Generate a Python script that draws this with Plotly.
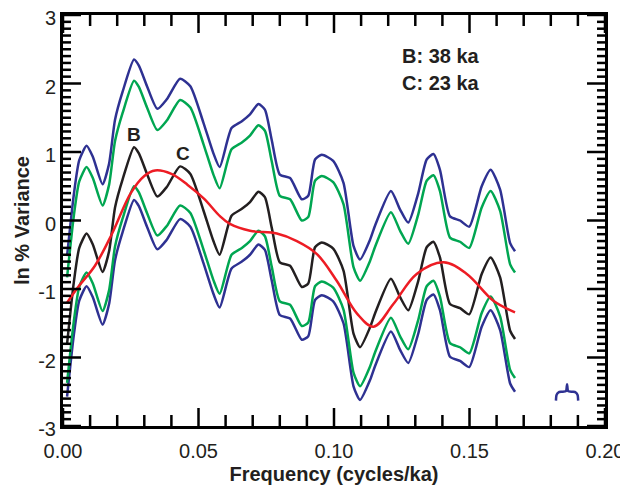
import plotly.graph_objects as go

# ---- data ----
freq = [0.0015, 0.004, 0.006, 0.0087, 0.011, 0.0146, 0.017, 0.0192, 0.022, 0.0262,
        0.028, 0.031, 0.0348, 0.0383, 0.0432, 0.047, 0.0518, 0.0555, 0.0578, 0.0622,
        0.066, 0.069, 0.0721, 0.0745, 0.077, 0.080, 0.0838, 0.0881, 0.0905, 0.093,
        0.0955, 0.0997, 0.1035, 0.1072, 0.1096, 0.1133, 0.1151, 0.121, 0.1244, 0.1274,
        0.1311, 0.1342, 0.1367, 0.1391, 0.1428, 0.1465, 0.1499, 0.1545, 0.1578, 0.1613,
        0.165, 0.1668]

spectrum = [-1.80, -0.90, -0.40, -0.19, -0.35, -0.75, -0.45, 0.19, 0.60, 1.07,
            0.98, 0.68, 0.35, 0.49, 0.79, 0.68, 0.15, -0.30, -0.50, 0.07,
            0.17, 0.27, 0.42, 0.34, -0.10, -0.61, -0.66, -0.97, -0.92, -0.39,
            -0.32, -0.41, -0.73, -1.65, -1.85, -1.56, -1.36, -0.85, -1.12, -1.31,
            -0.88, -0.39, -0.31, -0.54, -1.22, -1.28, -1.37, -0.78, -0.54, -0.83,
            -1.61, -1.73]

upper_blue = [-0.52, 0.38, 0.88, 1.09, 0.93, 0.53, 0.83, 1.47, 1.88, 2.35,
              2.26, 1.96, 1.63, 1.77, 2.07, 1.96, 1.43, 0.98, 0.78, 1.35,
              1.45, 1.55, 1.70, 1.62, 1.18, 0.67, 0.62, 0.31, 0.36, 0.89,
              0.96, 0.87, 0.55, -0.37, -0.57, -0.28, -0.08, 0.43, 0.16, -0.03,
              0.40, 0.89, 0.97, 0.74, 0.06, 0.00, -0.09, 0.50, 0.74, 0.45,
              -0.33, -0.45]

upper_green = [-0.83, 0.07, 0.57, 0.78, 0.62, 0.22, 0.52, 1.16, 1.57, 2.04,
               1.95, 1.65, 1.32, 1.46, 1.76, 1.65, 1.12, 0.67, 0.47, 1.04,
               1.14, 1.24, 1.39, 1.31, 0.87, 0.36, 0.31, 0.00, 0.05, 0.58,
               0.65, 0.56, 0.24, -0.68, -0.88, -0.59, -0.39, 0.12, -0.15, -0.34,
               0.09, 0.58, 0.66, 0.43, -0.25, -0.31, -0.40, 0.19, 0.43, 0.14,
               -0.64, -0.76]

lower_green = [-2.37, -1.47, -0.97, -0.76, -0.92, -1.32, -1.02, -0.38, 0.03, 0.50,
               0.41, 0.11, -0.22, -0.08, 0.22, 0.11, -0.42, -0.87, -1.07, -0.50,
               -0.40, -0.30, -0.15, -0.23, -0.67, -1.18, -1.23, -1.54, -1.49, -0.96,
               -0.89, -0.98, -1.30, -2.22, -2.42, -2.13, -1.93, -1.42, -1.69, -1.88,
               -1.45, -0.96, -0.88, -1.11, -1.79, -1.85, -1.94, -1.35, -1.11, -1.40,
               -2.18, -2.30]

lower_blue = [-2.57, -1.67, -1.17, -0.96, -1.12, -1.52, -1.22, -0.58, -0.17, 0.30,
              0.21, -0.09, -0.42, -0.28, 0.02, -0.09, -0.62, -1.07, -1.27, -0.70,
              -0.60, -0.50, -0.35, -0.43, -0.87, -1.38, -1.43, -1.74, -1.69, -1.16,
              -1.09, -1.18, -1.50, -2.42, -2.62, -2.33, -2.13, -1.62, -1.89, -2.08,
              -1.65, -1.16, -1.08, -1.31, -1.99, -2.05, -2.14, -1.55, -1.31, -1.60,
              -2.38, -2.50]

red_freq = [0.0015, 0.006, 0.0118, 0.018, 0.025, 0.030, 0.034, 0.040, 0.046, 0.052,
            0.058, 0.0616, 0.069, 0.0789, 0.0863, 0.0937, 0.101, 0.1085, 0.1146, 0.1219,
            0.1305, 0.1404, 0.149, 0.1588, 0.1668]
red_vals = [-1.20, -0.95, -0.66, -0.20, 0.40, 0.65, 0.73, 0.68, 0.52, 0.32,
            0.06, -0.05, -0.15, -0.19, -0.30, -0.49, -0.88, -1.36, -1.55, -1.22,
            -0.78, -0.61, -0.78, -1.17, -1.34]

bw_freq = [0.1819, 0.1821, 0.1828, 0.1840, 0.1856, 0.1860, 0.1864, 0.1880, 0.1892, 0.1899, 0.1901]
bw_vals = [-2.63, -2.55, -2.51, -2.50, -2.49, -2.39, -2.49, -2.50, -2.51, -2.55, -2.63]

peak_labels = ["B", "C"]
peak_freq = [0.0262, 0.0442]
peak_vals = [1.26, 0.98]

period_text = ["B: 38 ka", "C: 23 ka"]

x_ticks = [0.0, 0.05, 0.10, 0.15, 0.20]
x_minor = [0.01, 0.02, 0.03, 0.04, 0.06, 0.07, 0.08, 0.09, 0.11, 0.12, 0.13, 0.14,
           0.16, 0.17, 0.18, 0.19]
y_ticks = [-3, -2, -1, 0, 1, 2, 3]
y_minor = [k / 10 for k in range(-29, 30) if k % 10 != 0]

BLUE = "#2e3192"
GREEN = "#00a651"
BLACK = "#231f20"
RED = "#ed1c24"
FONT = "Liberation Sans, Arial, sans-serif"

W, H = 620, 477
M = dict(l=55, r=23, t=7, b=59)
X_RANGE = [0.0, 0.2]
Y_RANGE = [-3.0, 3.0]
plot_w = W - M["l"] - M["r"]
plot_h = H - M["t"] - M["b"]
x_per_px = (X_RANGE[1] - X_RANGE[0]) / plot_w
y_per_px = (Y_RANGE[1] - Y_RANGE[0]) / plot_h

fig = go.Figure()
line_kw = dict(shape="spline", smoothing=0.6, width=2.5)
fig.add_trace(go.Scatter(x=freq, y=upper_blue, mode="lines", line=dict(color=BLUE, **line_kw)))
fig.add_trace(go.Scatter(x=freq, y=lower_blue, mode="lines", line=dict(color=BLUE, **line_kw)))
fig.add_trace(go.Scatter(x=freq, y=upper_green, mode="lines", line=dict(color=GREEN, **line_kw)))
fig.add_trace(go.Scatter(x=freq, y=lower_green, mode="lines", line=dict(color=GREEN, **line_kw)))
fig.add_trace(go.Scatter(x=freq, y=spectrum, mode="lines", line=dict(color=BLACK, **line_kw)))
fig.add_trace(go.Scatter(x=red_freq, y=red_vals, mode="lines",
                         line=dict(color=RED, width=2.5, shape="spline", smoothing=1.0)))
fig.add_trace(go.Scatter(x=bw_freq, y=bw_vals, mode="lines",
                         line=dict(color=BLUE, width=2.5, shape="spline", smoothing=0.6)))

# inward tick marks on all four sides, built from the tick value lists
tx, ty = [], []
for vals, length in ((x_ticks, 18), (x_minor, 11)):
    d = length * y_per_px
    for v in vals:
        tx += [v, v, None, v, v, None]
        ty += [Y_RANGE[0], Y_RANGE[0] + d, None, Y_RANGE[1], Y_RANGE[1] - d, None]
for vals, length in ((y_ticks, 18), (y_minor, 8)):
    d = length * x_per_px
    for v in vals:
        tx += [X_RANGE[0], X_RANGE[0] + d, None, X_RANGE[1], X_RANGE[1] - d, None]
        ty += [v, v, None, v, v, None]
fig.add_trace(go.Scatter(x=tx, y=ty, mode="lines", hoverinfo="skip",
                         line=dict(color="black", width=2.5), cliponaxis=False))

for lab, fx, fy in zip(peak_labels, peak_freq, peak_vals):
    fig.add_annotation(x=fx, y=fy, text="<b>%s</b>" % lab, showarrow=False,
                       font=dict(family=FONT, size=19, color=BLACK))

fig.add_annotation(x=0.1244, y=2.40, text="<b>%s</b>" % period_text[0], showarrow=False,
                   xanchor="left", font=dict(family=FONT, size=20, color=BLACK))
fig.add_annotation(x=0.1244, y=2.01, text="<b>%s</b>" % period_text[1], showarrow=False,
                   xanchor="left", font=dict(family=FONT, size=20, color=BLACK))

fig.update_layout(
    template="simple_white",
    width=W, height=H, showlegend=False,
    plot_bgcolor="white", paper_bgcolor="white",
    margin=dict(M, autoexpand=False),
    xaxis=dict(range=X_RANGE, tickmode="array", tickvals=x_ticks,
               ticktext=["%.2f" % v for v in x_ticks],
               showline=True, linecolor="black", linewidth=3, mirror=True,
               ticks="", showgrid=False, zeroline=False, ticklabeloverflow="allow",
               ticklabelstandoff=5,
               tickfont=dict(family=FONT, size=20, color=BLACK),
               title=dict(text="<b>Frequency (cycles/ka)</b>", standoff=8,
                          font=dict(family=FONT, size=20, color=BLACK))),
    yaxis=dict(range=Y_RANGE, tickmode="array", tickvals=y_ticks,
               ticktext=[str(v) for v in y_ticks],
               showline=True, linecolor="black", linewidth=3, mirror=True,
               ticks="", showgrid=False, zeroline=False, ticklabeloverflow="allow",
               ticklabelshift=3,
               tickfont=dict(family=FONT, size=20, color=BLACK),
               title=dict(text="<b>ln % Variance</b>", standoff=4,
                          font=dict(family=FONT, size=20, color=BLACK))),
)

fig.write_html("out.html")
